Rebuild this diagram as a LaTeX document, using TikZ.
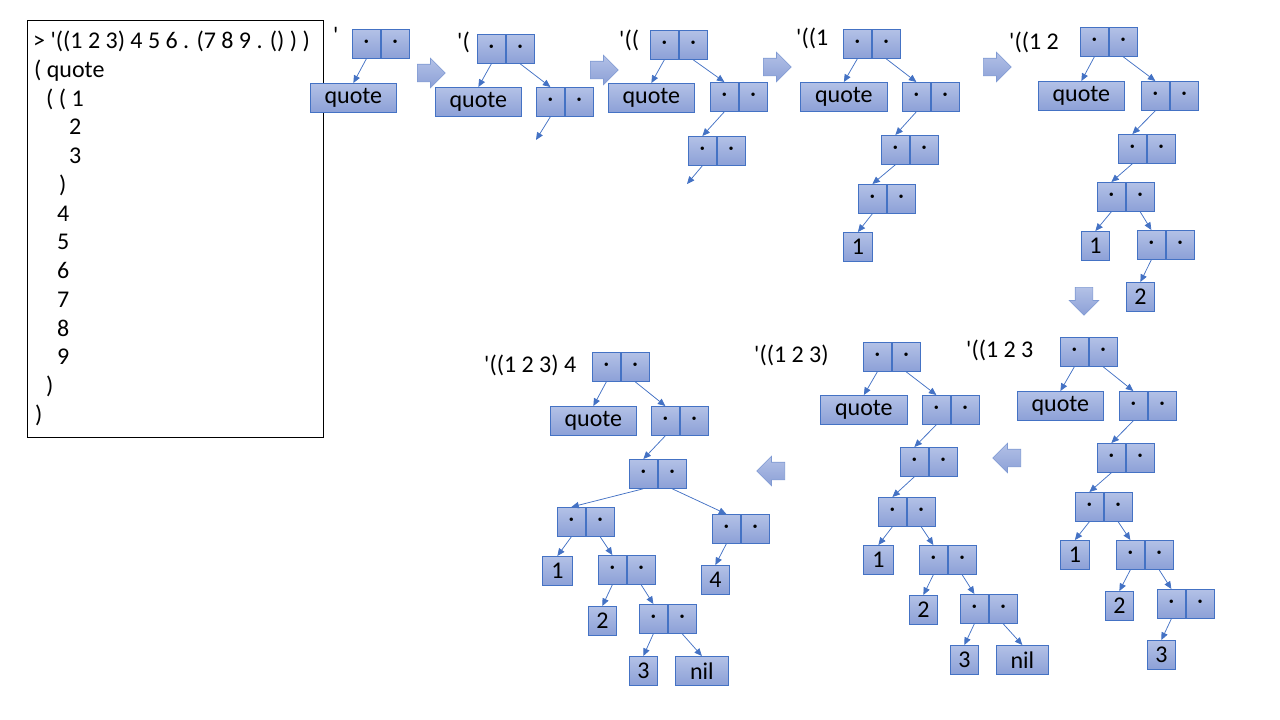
\documentclass[tikz,border=0pt]{standalone}
\usepackage{fontspec}
\setmainfont{Carlito}
\usetikzlibrary{arrows.meta,shapes.arrows}

\definecolor{boxtop}{HTML}{B3C1E6}
\definecolor{boxbot}{HTML}{8CA0D7}
\definecolor{boxline}{HTML}{4472C4}
\definecolor{arrowline}{HTML}{7F9AD3}

\newcommand{\apos}{\textquotesingle}
\newcommand{\conscell}[3]{%
  \node[half, anchor=north west] (#1l) at (#2,#3) {·};
  \node[half, anchor=west] (#1r) at (#1l.east) {·};}
\newcommand{\atom}[5]{%
  \node[half, minimum width=#4, anchor=north west] (#1) at (#2,#3) {#5};}

\begin{document}
\begin{tikzpicture}[x=1pt, y=-1pt,
    font=\fontsize{24}{28.75}\selectfont,
    half/.style={draw=boxline, line width=0.75pt, top color=boxtop, bottom color=boxbot,
                 minimum width=28pt, minimum height=29pt, inner sep=0pt},
    link/.style={draw=boxline, line width=0.75pt, -{Triangle[length=7.5pt,width=6.5pt]}},
    lbl/.style={anchor=base west, inner sep=0pt},
    bigarrow/.style={single arrow, draw=arrowline, line width=0.6pt, top color=boxtop, bottom color=boxbot,
                     inner sep=0pt, text height=17pt, text depth=0pt, minimum height=28pt,
                     single arrow head extend=6pt, anchor=tail}]
  \useasboundingbox (0,0) rectangle (1280,720);

  % listing
  \node[draw=black, line width=0.75pt, minimum width=296pt, minimum height=417pt, anchor=north west] (listing) at (27,20) {};
  \foreach \n/\x/\txt in {0/33/{> \apos((1 2 3) 4 5 6 . (7 8 9 . () ) )}, 1/34/{( quote}, 2/46/{( ( 1},
      3/69/{2}, 4/69/{3}, 5/59/{)}, 6/57/{4}, 7/57/{5}, 8/57/{6}, 9/57/{7}, 10/57/{8}, 11/57/{9},
      12/46/{)}, 13/35/{)}}
    \node[lbl] (ln\n) at (\x,{48.5+28.75*\n}) {\txt};

  % step arrows
  \node[bigarrow] (go1) at (417,73) {};
  \node[bigarrow] (go2) at (590,70) {};
  \node[bigarrow] (go3) at (763,67) {};
  \node[bigarrow] (go4) at (983,67) {};
  \node[bigarrow, rotate=-90] (go5) at (1084,287) {};
  \node[bigarrow, rotate=180] (go6) at (1021,458) {};
  \node[bigarrow, rotate=180] (go7) at (785,471) {};

  % '
  \node[lbl] (Alab) at (333,43.5) {\apos};
  \conscell{A1}{352}{29}
  \atom{Aq}{310}{83}{86pt}{quote}
  \draw[link] (A1l.south) -- (Aq.north);

  % '(
  \node[lbl] (Blab) at (457,49) {\apos(};
  \conscell{B1}{477}{34}
  \atom{Bq}{435}{87}{86pt}{quote}
  \conscell{B2}{536}{87}
  \coordinate (Bend) at (536,140);
  \draw[link] (B1l.south) -- (Bq.north);
  \draw[link] (B1r.south) -- (B2l.north);
  \draw[link] (B2l.south) -- (Bend);

  % '((
  \node[lbl] (Clab) at (619,47) {\apos((};
  \conscell{C1}{650}{30}
  \atom{Cq}{608}{83}{86pt}{quote}
  \conscell{C2}{710}{82}
  \conscell{C3}{688}{136}
  \coordinate (Cend) at (687,184);
  \draw[link] (C1l.south) -- (Cq.north);
  \draw[link] (C1r.south) -- (C2l.north);
  \draw[link] (C2l.south) -- (C3l.north);
  \draw[link] (C3l.south) -- (Cend);

  % '((1
  \node[lbl] (Dlab) at (796,45) {\apos((1};
  \conscell{D1}{843}{29}
  \atom{Dq}{800}{82}{87pt}{quote}
  \conscell{D2}{902}{82}
  \conscell{D3}{881}{135}
  \conscell{D4}{858}{184}
  \atom{Da}{843}{232}{29pt}{1}
  \draw[link] (D1l.south) -- (Dq.north);
  \draw[link] (D1r.south) -- (D2l.north);
  \draw[link] (D2l.south) -- (D3l.north);
  \draw[link] (D3l.south) -- (D4l.north);
  \draw[link] (D4l.south) -- (Da.north);

  % '((1 2
  \node[lbl] (Elab) at (1009,49) {\apos((1 2};
  \conscell{E1}{1080}{27}
  \atom{Eq}{1038}{81}{86pt}{quote}
  \conscell{E2}{1141}{81}
  \conscell{E3}{1118}{134}
  \conscell{E4}{1097}{182}
  \atom{Ea}{1081}{231}{28pt}{1}
  \conscell{E5}{1137}{230}
  \atom{Eb}{1126}{282}{28pt}{2}
  \draw[link] (E1l.south) -- (Eq.north);
  \draw[link] (E1r.south) -- (E2l.north);
  \draw[link] (E2l.south) -- (E3l.north);
  \draw[link] (E3l.south) -- (E4l.north);
  \draw[link] (E4l.south) -- (Ea.north);
  \draw[link] (E4r.south) -- (E5l.north);
  \draw[link] (E5l.south) -- (Eb.north);

  % '((1 2 3
  \node[lbl] (Flab) at (966,357) {\apos((1 2 3};
  \conscell{F1}{1060}{337}
  \atom{Fq}{1017}{391}{86pt}{quote}
  \conscell{F2}{1119}{391}
  \conscell{F3}{1097}{443}
  \conscell{F4}{1075}{492}
  \atom{Fa}{1060}{540}{29pt}{1}
  \conscell{F5}{1116}{540}
  \atom{Fb}{1105}{591}{28pt}{2}
  \conscell{F6}{1157}{589}
  \atom{Fc}{1147}{640}{28pt}{3}
  \draw[link] (F1l.south) -- (Fq.north);
  \draw[link] (F1r.south) -- (F2l.north);
  \draw[link] (F2l.south) -- (F3l.north);
  \draw[link] (F3l.south) -- (F4l.north);
  \draw[link] (F4l.south) -- (Fa.north);
  \draw[link] (F4r.south) -- (F5l.north);
  \draw[link] (F5l.south) -- (Fb.north);
  \draw[link] (F5r.south) -- (F6l.north);
  \draw[link] (F6l.south) -- (Fc.north);

  % '((1 2 3)
  \node[lbl] (Glab) at (754,362) {\apos((1 2 3)};
  \conscell{G1}{863}{342}
  \atom{Gq}{820}{395}{87pt}{quote}
  \conscell{G2}{922}{395}
  \conscell{G3}{900}{447}
  \conscell{G4}{878}{497}
  \atom{Ga}{863}{545}{30pt}{1}
  \conscell{G5}{919}{545}
  \atom{Gb}{909}{595}{28pt}{2}
  \conscell{G6}{960}{594}
  \atom{Gc}{950}{645}{28pt}{3}
  \atom{Gn}{996}{645}{52pt}{nil}
  \draw[link] (G1l.south) -- (Gq.north);
  \draw[link] (G1r.south) -- (G2l.north);
  \draw[link] (G2l.south) -- (G3l.north);
  \draw[link] (G3l.south) -- (G4l.north);
  \draw[link] (G4l.south) -- (Ga.north);
  \draw[link] (G4r.south) -- (G5l.north);
  \draw[link] (G5l.south) -- (Gb.north);
  \draw[link] (G5r.south) -- (G6l.north);
  \draw[link] (G6l.south) -- (Gc.north);
  \draw[link] (G6r.south) -- (Gn.north);

  % '((1 2 3) 4
  \node[lbl] (Hlab) at (484,372) {\apos((1 2 3) 4};
  \conscell{H1}{592}{352}
  \atom{Hq}{550}{406}{86pt}{quote}
  \conscell{H2}{651}{406}
  \conscell{H3}{629}{459}
  \conscell{H4}{557}{507}
  \conscell{H7}{712}{514}
  \atom{Ha}{542}{556}{30pt}{1}
  \conscell{H5}{598}{555}
  \atom{Hd}{701}{565}{28pt}{4}
  \atom{Hb}{588}{606}{28pt}{2}
  \conscell{H6}{639}{604}
  \atom{Hc}{629}{656}{28pt}{3}
  \atom{Hn}{675}{656}{53pt}{nil}
  \draw[link] (H1l.south) -- (Hq.north);
  \draw[link] (H1r.south) -- (H2l.north);
  \draw[link] (H2l.south) -- (H3l.north);
  \draw[link] (H3l.south) -- (H4l.north);
  \draw[link] (H3r.south) -- (H7l.north);
  \draw[link] (H4l.south) -- (Ha.north);
  \draw[link] (H4r.south) -- (H5l.north);
  \draw[link] (H5l.south) -- (Hb.north);
  \draw[link] (H5r.south) -- (H6l.north);
  \draw[link] (H6l.south) -- (Hc.north);
  \draw[link] (H6r.south) -- (Hn.north);
  \draw[link] (H7l.south) -- (Hd.north);
\end{tikzpicture}
\end{document}
